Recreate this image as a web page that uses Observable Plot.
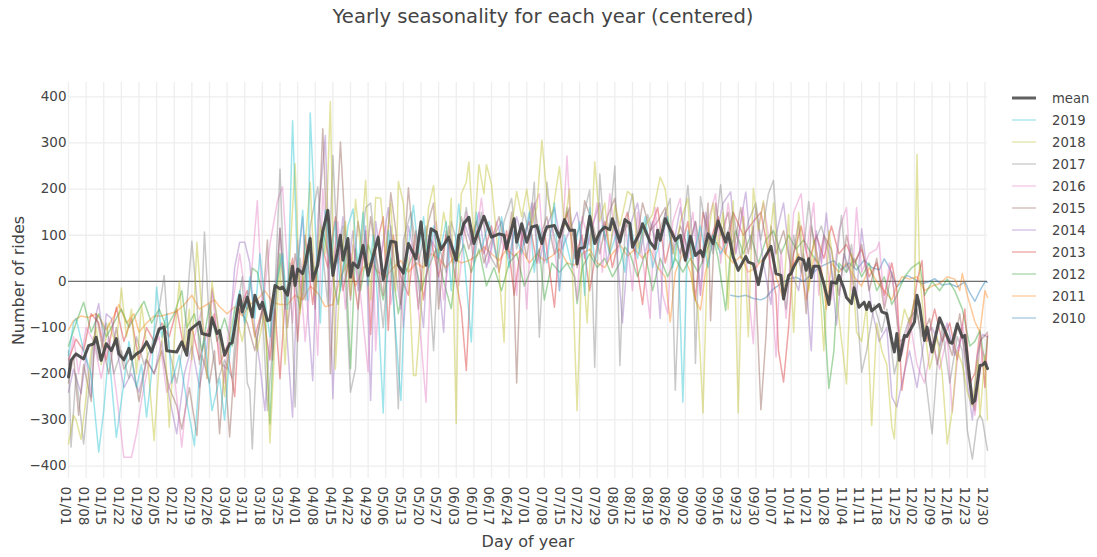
<!DOCTYPE html>
<html>
<head>
<meta charset="utf-8">
<script src="https://cdn.jsdelivr.net/npm/d3@7"></script>
<script src="https://cdn.jsdelivr.net/npm/@observablehq/plot@0.6"></script>
<style>
html,body{margin:0;padding:0;background:#fff;width:1097px;height:557px;overflow:hidden;position:relative;font-family:"DejaVu Sans",sans-serif;color:#444}
#title{height:36px;line-height:33px;text-align:center;font-size:19.6px;width:1086px;color:#444}
#legend{position:absolute;left:1012px;top:87px;font-size:13.2px}
.row{height:22px;display:flex;align-items:center}
.row svg{width:24px;height:22px;margin-right:16px;display:block}
</style>
</head>
<body>
<div id="title"></div>
<div id="chart"></div>
<div id="legend"></div>
<script>
const titleText = "Yearly seasonality for each year (centered)";
const xLabel = "Day of year";
const yLabel = "Number of rides";
const yTicks = [-400,-300,-200,-100,0,100,200,300,400];
const tickLabels = ["01/01","01/08","01/15","01/22","01/29","02/05","02/12","02/19","02/26","03/04","03/11","03/18","03/25","04/01","04/08","04/15","04/22","04/29","05/06","05/13","05/20","05/27","06/03","06/10","06/17","06/24","07/01","07/08","07/15","07/22","07/29","08/05","08/12","08/19","08/26","09/02","09/09","09/16","09/23","09/30","10/07","10/14","10/21","10/28","11/04","11/11","11/18","11/25","12/02","12/09","12/16","12/23","12/30"];
const names = ["mean","2019","2018","2017","2016","2015","2014","2013","2012","2011","2010"];
const colors = {"2019":"#17becf","2018":"#bcbd22","2017":"#7f7f7f","2016":"#e377c2","2015":"#8c564b","2014":"#9467bd","2013":"#d62728","2012":"#2ca02c","2011":"#ff7f0e","2010":"#1f77b4"};

// every list below is flat: day, value, day, value ...
const mean = [0,-207,1,-171,3,-157,6,-168,8,-139,10,-135,11,-121,13,-171,15,-135,17,-150,19,-124,20,-157,22,-170,24,-145,25,-168,27,-157,29,-150,31,-131,33,-153,36,-103,38,-99,39,-150,43,-153,45,-131,47,-160,48,-106,52,-88,53,-113,56,-117,57,-79,59,-113,60,-106,62,-160,64,-135,65,-133,68,-30,69,-66,71,-34,73,-77,74,-30,76,-59,77,-45,79,-85,80,-83,82,-9,84,-16,85,-12,87,-30,89,33,90,-9,91,27,93,17,94,38,96,93,97,2,99,35,101,109,103,154,105,13,108,100,109,46,111,93,112,9,113,40,115,30,117,78,119,13,123,96,125,4,128,87,130,85,131,35,133,18,135,82,138,49,140,129,142,35,144,114,146,107,148,69,151,96,154,46,155,100,156,103,157,125,159,139,161,82,165,141,168,96,171,103,173,100,174,71,177,136,178,85,180,125,182,85,184,118,186,121,188,82,189,103,190,118,193,121,195,96,197,134,199,111,201,111,202,38,203,71,205,74,207,141,209,82,211,107,213,118,215,112,216,136,219,85,221,134,223,125,224,74,227,107,228,125,231,85,233,71,234,111,235,89,237,136,241,89,243,100,245,46,247,98,249,56,251,67,252,54,254,103,256,82,258,131,261,85,262,105,264,53,266,24,269,54,270,42,272,38,274,-7,276,46,279,76,281,17,283,13,284,-38,286,13,287,17,288,31,290,51,292,46,293,24,294,49,295,8,296,33,298,33,300,-5,302,-50,303,-1,305,-4,306,13,308,-16,309,-35,311,-48,312,-14,314,-56,316,-45,317,-61,318,-45,319,-64,322,-50,323,-66,325,-70,327,-128,328,-153,329,-113,330,-171,332,-117,333,-119,336,-88,337,-30,338,-52,340,-128,341,-99,343,-153,346,-79,350,-132,351,-134,353,-92,355,-121,356,-117,358,-215,359,-264,360,-258,362,-182,363,-181,364,-175,365,-189];
const y2019 = [0,-160,2,-90,3,-80,6,-150,9,-200,12,-370,14,-280,16,-150,19,-338,22,-220,24,-130,27,-230,29,-180,31,-294,33,-200,35,-12,37,-120,39,-70,41,-220,44,-160,47,-260,50,-356,52,-200,54,-120,57,-280,60,-210,62,-300,64,-160,66,-60,68,-20,70,-90,72,10,74,-80,76,60,78,-40,80,-120,82,-20,85,60,87,-60,89,348,91,20,93,154,95,-40,96,365,98,120,100,-90,102,155,104,40,106,130,108,-20,111,120,113,157,115,30,117,150,119,-10,121,100,123,-60,125,-285,127,110,129,-40,132,-258,134,30,137,165,139,60,141,140,143,30,145,120,147,50,150,130,152,-20,155,168,157,60,160,-131,162,150,164,70,167,130,170,50,172,140,175,30,177,110,180,60,183,150,185,20,187,120,190,40,193,170,195,-20,197,100,200,30,203,130,205,-30,207,160,209,40,212,120,215,60,218,110,221,20,223,130,226,50,229,140,232,30,235,90,238,140,240,30,242,100,244,-262,246,110,248,50,251,120,254,30,256,100,259,60,262,90];
const y2018 = [0,-352,2,-290,3,-300,5,-342,7,-250,9,-150,11,-100,13,-180,16,-90,19,-140,21,-14,23,-120,25,-60,27,-200,29,-50,31,-140,34,-345,36,-180,38,-90,40,-316,42,-130,44,0,46,-150,48,-60,49,-170,51,85,53,-70,55,-210,57,0,60,-120,62,-250,64,-120,66,-60,69,-130,72,-40,75,-150,78,-60,80,-350,82,-130,84,40,86,-180,88,60,90,255,92,-70,94,80,96,215,98,-30,100,120,102,60,104,390,106,-190,108,20,110,130,112,-30,114,178,116,70,118,219,120,-40,122,182,124,180,126,60,128,170,130,-20,131,217,133,170,135,30,137,-204,138,-204,140,-60,143,160,145,208,147,60,149,150,151,90,152,180,154,-308,155,60,156,190,158,215,159,259,161,90,163,253,165,190,166,253,168,210,170,100,173,-131,174,70,176,120,178,195,180,140,182,200,184,120,186,160,188,306,190,190,192,140,195,249,197,120,199,200,202,-280,204,60,206,-90,209,259,211,130,213,170,215,60,217,165,219,120,222,195,224,185,226,70,229,120,232,145,235,226,237,200,239,100,241,50,243,130,246,180,248,-20,250,-60,252,-285,254,100,256,170,258,70,260,150,262,-60,264,175,266,-285,268,140,270,-120,272,202,274,110,276,175,278,60,280,170,282,20,284,-30,286,145,288,-110,290,150,292,50,294,-20,296,90,298,20,300,-150,302,110,304,30,306,-80,309,-222,311,60,313,-110,315,-130,317,-50,319,-312,321,-90,323,-150,325,-180,327,-315,328,-341,330,-120,332,-60,334,-90,336,-40,337,275,338,20,340,-100,342,-190,345,-120,347,-200,349,-352,351,-280,353,-150,355,-180,357,-240,359,-270,361,-170,362,-294,364,-160,365,-300];
const y2017 = [0,-150,1,-359,3,-200,6,-352,8,-240,10,-120,12,-170,15,-90,18,-200,21,-150,24,-210,27,-120,30,-180,33,-140,36,-60,38,13,40,-150,43,-220,46,-120,49,87,51,-40,52,-180,54,107,56,-100,59,-220,62,-170,65,-210,67,-60,69,10,71,-220,72,-235,73,-363,75,-120,77,-60,79,-280,81,-150,84,243,86,-60,88,40,90,-272,92,50,94,-40,96,120,99,205,101,60,103,-50,105,273,107,40,109,120,112,-240,114,-189,116,60,118,160,120,170,122,60,125,-100,128,120,131,-276,133,90,136,150,139,40,142,120,145,-150,147,80,150,20,152,130,155,70,158,160,161,40,164,150,167,60,170,30,173,130,176,180,178,70,181,150,183,100,185,215,187,-121,189,90,190,215,192,120,195,50,198,160,201,90,204,130,207,198,209,-186,211,233,213,90,215,130,217,250,219,-182,221,110,224,190,227,60,230,145,233,90,236,130,239,180,241,-236,243,60,246,208,248,80,249,-178,251,184,253,120,256,60,259,210,261,90,264,150,267,50,270,130,273,170,275,90,278,190,280,219,282,50,285,-60,288,100,291,20,294,173,296,80,299,120,302,60,304,-10,307,143,309,20,311,80,313,-40,315,-197,317,-150,320,-50,323,-110,325,-60,328,-200,331,-130,334,-80,337,-60,340,-190,343,-330,345,-180,347,-100,350,-220,353,-120,355,-150,357,-323,359,-385,361,-300,362,-290,363,-300,365,-366];
const y2016 = [0,-180,2,-120,4,-200,7,-100,10,-130,13,-210,16,-120,19,-240,22,-381,25,-381,27,-330,29,-258,31,-200,33,-150,36,-120,39,-240,42,-200,45,-359,47,-240,50,-120,53,-60,55,-210,57,-15,59,-120,62,-220,64,-80,66,-20,68,60,71,-60,73,40,75,175,77,-60,80,80,83,175,85,205,87,30,89,-90,91,90,94,-130,97,60,99,-160,101,200,104,-40,107,130,110,-60,113,80,116,-30,119,-196,121,70,122,-150,124,50,126,120,128,-50,131,60,133,-100,136,80,139,-60,142,-262,144,50,146,130,149,-40,152,90,155,-10,158,150,161,60,164,180,167,40,170,130,173,70,176,120,178,-30,180,110,182,-60,184,150,187,190,189,40,192,120,195,-20,198,272,200,60,202,-40,204,140,207,80,210,170,212,20,215,190,218,60,221,130,224,-20,226,150,228,50,231,-80,233,160,236,-30,238,-70,240,130,243,180,245,50,248,150,251,-30,254,130,257,190,259,40,262,170,265,60,268,160,270,-20,272,-135,274,120,276,170,278,100,281,-164,283,70,285,-80,288,150,291,190,293,60,296,170,298,-30,300,100,303,-40,306,110,309,160,311,-20,313,160,315,20,318,60,321,70,322,85,324,-50,326,40,328,-20,331,-160,334,-80,337,-180,340,-220,343,-130,346,-190,349,-120,351,-283,353,-170,355,-90,358,-200,360,-290,363,-150,365,-180];
const y2015 = [0,-220,2,-160,4,-290,6,-180,9,-260,11,-70,13,-130,16,-200,19,-100,22,-190,25,-160,28,-260,31,-170,34,-200,37,-150,40,-230,43,-270,45,-320,48,-230,51,-334,53,-160,56,-220,58,-150,60,-330,62,-180,64,-337,66,-170,68,-60,71,-90,74,-150,77,-60,79,90,81,-170,84,115,87,-100,90,60,93,-40,96,100,98,-60,101,331,103,40,104,-200,106,80,108,302,110,100,112,-40,115,130,118,30,120,140,122,60,125,-30,128,192,130,110,132,-50,135,203,137,80,139,-60,141,60,143,130,145,170,147,-60,150,110,153,40,156,140,159,70,162,130,165,40,168,90,171,140,174,60,176,150,178,-220,180,110,182,50,185,170,187,90,190,140,193,60,196,110,199,160,202,30,205,175,208,130,211,60,214,140,217,180,219,90,222,125,225,60,228,170,231,110,234,130,237,160,240,60,243,120,246,70,249,130,252,40,254,170,255,-85,257,170,259,100,262,150,264,60,267,160,270,60,272,120,275,-278,277,-120,279,120,281,60,284,110,287,30,290,130,293,-70,295,120,298,40,300,100,303,70,306,-30,309,100,312,30,315,80,318,-20,321,50,324,-60,327,20,330,-130,333,-120,336,-40,339,-120,342,-80,345,-180,348,-110,351,-160,354,-70,357,-200,360,-280,362,-130,365,-110];
const y2014 = [0,-240,2,-190,5,-243,7,-160,9,-250,11,-70,12,-48,14,-130,15,-70,17,-80,19,-140,22,-230,25,-200,28,-240,31,-170,34,-200,37,-130,40,-250,43,-330,46,-200,49,-140,52,-230,55,-140,57,-20,59,-80,61,-180,63,-190,66,30,68,85,70,85,72,40,74,-100,76,-180,78,-280,80,-130,82,-40,84,115,86,-60,89,-294,91,40,93,140,95,-60,97,-215,99,130,102,316,103,140,105,-254,107,50,109,140,111,30,113,110,115,-20,118,120,120,-258,122,130,124,50,127,160,129,60,132,-60,135,120,138,40,141,-100,143,100,146,70,149,-110,151,120,154,40,157,130,160,80,163,150,166,30,169,100,172,130,175,50,178,140,181,80,184,170,187,40,190,120,193,160,196,70,199,110,202,150,205,50,208,120,211,170,214,40,217,130,220,-90,223,120,226,170,229,60,232,130,235,-80,237,150,240,70,243,160,246,50,249,130,251,-30,253,150,256,70,260,170,263,194,265,60,267,130,269,194,271,70,273,160,276,40,279,-50,281,100,284,170,287,20,290,-20,292,60,295,-150,297,110,299,40,301,148,303,30,305,-95,308,60,311,10,313,-30,315,114,317,30,319,-60,322,-130,325,-100,327,-250,329,-272,331,-220,334,-150,337,-230,340,-120,343,-100,346,-140,349,-90,352,-160,355,-120,357,-220,359,-300,361,-160,363,-115,365,-120];
const y2013 = [0,-170,3,-125,6,-150,9,-70,12,-90,15,-170,19,-56,22,-130,25,-80,28,-170,31,-100,34,-130,37,-90,40,-120,43,-60,46,-150,49,-100,52,-170,55,-110,58,-70,60,-180,63,-140,66,-250,68,-60,71,-20,74,-120,77,-60,80,-170,82,-60,84,-211,86,-40,89,50,91,-130,94,100,97,-50,100,90,103,30,106,140,109,-20,112,60,115,-60,118,110,120,-115,122,70,125,140,127,-106,129,100,132,10,135,-30,138,110,141,-40,144,90,147,10,150,100,153,30,156,-60,158,-193,160,40,162,110,165,60,168,120,171,20,174,110,177,-30,180,90,183,130,186,40,189,110,193,-56,195,90,198,150,201,50,204,100,207,-20,210,80,213,130,216,30,219,100,222,150,225,60,228,-50,231,110,234,160,237,40,240,110,243,60,246,130,249,-40,252,150,255,90,258,140,261,60,264,150,268,100,272,130,275,150,278,60,281,-30,282,-150,284,-218,286,-100,288,60,291,120,294,40,297,100,300,50,303,120,306,60,309,80,312,40,315,70,318,10,321,40,324,-30,327,40,329,-20,331,-236,334,-120,337,0,339,45,341,-130,344,-60,347,-130,350,-90,353,-170,356,-60,358,-220,360,-200,362,-110,364,-230,365,-115];
const y2012 = [0,-140,3,-90,6,-45,9,-110,12,-70,15,-120,18,-90,21,-60,24,-100,27,-70,30,-43,33,-90,36,-60,39,-100,42,-70,45,-20,47,-100,50,-70,53,-150,56,-50,59,-130,62,-80,65,-140,68,-40,71,-60,73,29,75,20,78,-50,80,-309,82,-60,84,60,86,-30,89,20,92,-60,95,80,98,20,101,110,104,40,107,-50,110,60,112,-189,114,70,116,-20,119,80,122,30,125,-40,128,50,131,-70,134,20,137,60,140,-20,143,30,146,70,149,0,152,-59,154,40,157,80,160,20,163,70,166,-10,169,30,172,-20,175,40,178,60,181,-10,184,30,187,70,189,-40,192,40,195,20,198,40,201,10,202,-48,204,30,207,60,210,30,213,50,216,10,219,40,221,74,223,60,226,10,229,60,232,-20,235,50,238,10,241,50,244,20,247,50,250,20,253,60,256,100,258,50,261,-63,263,70,265,110,268,60,271,100,274,40,277,90,280,110,283,60,286,100,289,70,292,90,295,60,298,40,300,-60,302,-232,304,-150,306,40,309,20,312,50,315,10,318,40,321,-20,324,10,327,-50,329,-30,332,10,335,30,338,42,340,-30,343,0,346,-20,349,5,352,-20,355,-60,358,-140,360,-130,362,-106,364,-180,365,-120];
const y2011 = [0,-105,2,-85,5,-75,8,-78,11,-70,13,-85,15,-105,18,-75,20,-50,23,-90,26,-70,28,-110,31,-90,34,-75,37,-75,40,-70,43,-65,46,-50,49,-30,52,-60,55,-50,58,-40,60,-55,63,-70,66,-55,69,-75,72,-50,75,-40,78,-20,81,-45,84,-50,87,-50,90,-30,93,-40,96,-10,99,-25,102,-55,105,-50,108,10,111,40,114,-10,117,30,120,40,123,20,126,10,129,30,132,45,135,20,138,40,141,30,144,60,147,50,150,30,153,50,156,40,159,45,162,55,165,75,168,60,171,45,174,70,177,55,180,70,183,40,186,60,189,45,192,55,195,70,198,40,201,35,204,60,207,70,210,40,213,30,216,60,219,80,222,55,225,70,228,50,231,70,234,30,237,10,239,-88,241,20,244,60,247,20,249,-40,251,-62,253,20,256,90,258,80,261,60,264,40,267,55,270,20,273,30,276,50,279,70,281,10,284,-40,287,30,290,60,293,-40,296,50,299,30,301,-60,303,40,306,20,309,40,312,10,315,-10,318,30,321,0,324,-20,327,-40,329,-10,331,10,334,5,337,10,340,-20,343,-10,346,-5,349,10,352,5,354,-20,355,17,357,-30,360,-88,362,-110,364,-20,365,-35];
const y2010 = [263,-30,266,-33,269,-30,272,-37,275,-40,277,-35,280,-16,283,-5,286,5,289,9,292,0,295,15,298,30,301,38,304,45,307,25,310,40,313,25,316,46,319,30,322,25,324,49,326,30,329,-12,331,0,333,13,336,5,339,-5,342,0,344,6,347,-8,350,-5,353,-12,356,-1,358,-25,360,-43,362,-20,364,-1,365,-2];

const toRows = flat => d3.range(0, flat.length, 2).map(i => ({day: flat[i], value: flat[i + 1]}));
const years = [["2010",y2010],["2011",y2011],["2012",y2012],["2013",y2013],["2014",y2014],["2015",y2015],["2016",y2016],["2017",y2017],["2018",y2018],["2019",y2019]];
const tickDays = tickLabels.map((_, i) => i * 7);

document.getElementById("title").textContent = titleText;

const chart = Plot.plot({
  width: 1097, height: 521,
  marginTop: 46, marginBottom: 79, marginLeft: 68, marginRight: 110,
  style: {fontFamily: '"DejaVu Sans", sans-serif', fontSize: "13.5px", color: "#444", background: "#fff"},
  x: {domain: [0, 365], label: null},
  y: {domain: [-427, 431], label: null},
  marks: [
    Plot.gridX(tickDays, {stroke: "#eee", strokeOpacity: 1, strokeWidth: 1.3}),
    Plot.gridY(yTicks, {stroke: "#eee", strokeOpacity: 1, strokeWidth: 1.3}),
    Plot.axisX(tickDays, {tickSize: 0, tickRotate: 90, tickPadding: 8, dx: -3, tickFormat: d => tickLabels[d / 7], label: null, fill: "#444"}),
    Plot.axisY(yTicks, {tickSize: 0, tickPadding: 2, label: null, fill: "#444"}),
    Plot.ruleY([0], {stroke: "#444", strokeWidth: 1.2, strokeOpacity: 0.75}),
    ...years.map(([name, flat]) => Plot.line(toRows(flat), {x: "day", y: "value", stroke: colors[name], strokeWidth: 1.5, strokeOpacity: 0.42})),
    Plot.line(toRows(mean), {x: "day", y: "value", stroke: "#444", strokeWidth: 3, strokeOpacity: 0.92}),
    Plot.text([xLabel], {frameAnchor: "bottom", dy: 63, fontSize: 16, fill: "#444", lineAnchor: "middle"}),
    Plot.text([yLabel], {frameAnchor: "left", dx: -50, rotate: -90, textAnchor: "middle", fontSize: 16, fill: "#444"})
  ]
});
document.getElementById("chart").appendChild(chart);

const legend = document.getElementById("legend");
for (const n of names) {
  const row = document.createElement("div");
  row.className = "row";
  const isMean = n === "mean";
  const stroke = isMean ? "#444" : colors[n];
  row.innerHTML = `<svg viewBox="0 0 24 22"><line x1="0" x2="24" y1="11" y2="11" stroke="${stroke}" stroke-width="${isMean ? 3 : 1.2}" stroke-opacity="${isMean ? 0.85 : 0.45}"/></svg><span>${n}</span>`;
  legend.appendChild(row);
}
</script>
</body>
</html>
